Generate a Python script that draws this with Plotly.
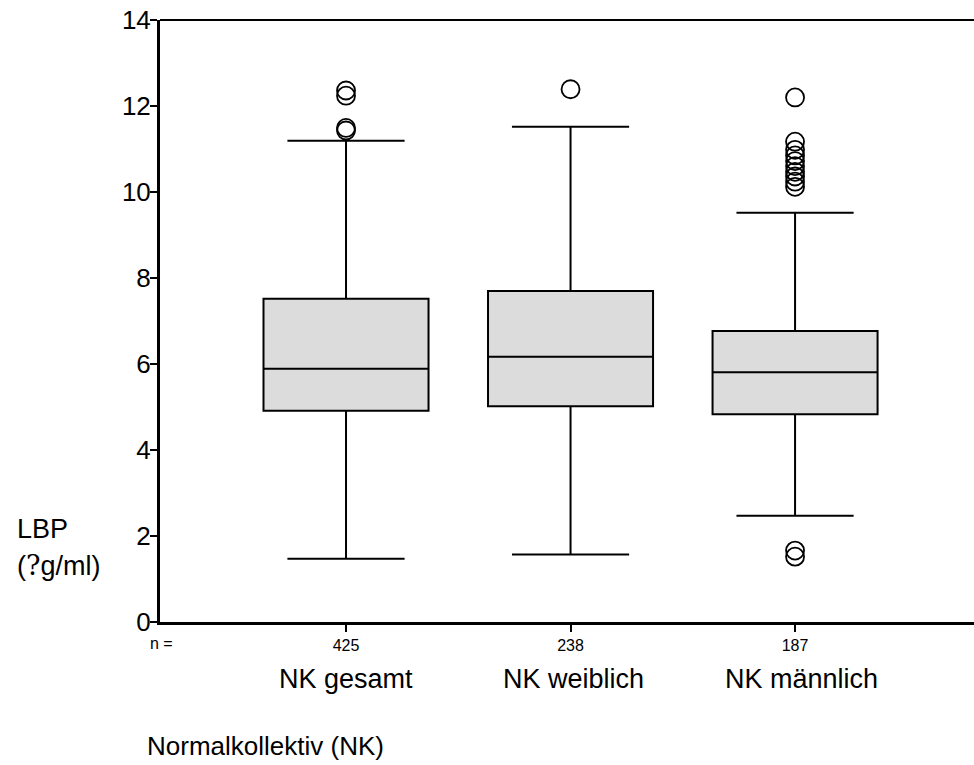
import plotly.graph_objects as go

# ---------------- data ----------------
categories = ["NK gesamt", "NK weiblich", "NK männlich"]
n_values = ["425", "238", "187"]
q1 = [4.91, 5.02, 4.83]
median = [5.89, 6.17, 5.81]
q3 = [7.52, 7.70, 6.77]
lower_whisker = [1.47, 1.57, 2.47]
upper_whisker = [11.19, 11.52, 9.52]
outliers_gesamt = [12.36, 12.24, 11.49, 11.43]
outliers_weiblich = [12.39]
outliers_maennlich = [12.20, 11.17, 10.98, 10.85, 10.72, 10.60, 10.47, 10.36,
                      10.24, 10.12, 1.66, 1.52]
y_ticks = [0, 2, 4, 6, 8, 10, 12, 14]

FONT = "Liberation Sans, Arial, sans-serif"
positions = list(range(len(categories)))
label_shift = [0, 3, 6]

fig = go.Figure()

fig.add_trace(go.Box(
    x=positions,
    q1=q1, median=median, q3=q3,
    lowerfence=lower_whisker, upperfence=upper_whisker,
    width=0.735, whiskerwidth=0.71,
    fillcolor="#dcdcdc",
    line=dict(color="black", width=2),
    boxpoints=False,
    showlegend=False,
))

out_x, out_y = [], []
for i, vals in enumerate([outliers_gesamt, outliers_weiblich, outliers_maennlich]):
    out_x += [positions[i]] * len(vals)
    out_y += vals

fig.add_trace(go.Scatter(
    x=out_x, y=out_y, mode="markers",
    marker=dict(symbol="circle-open", size=18, color="black",
                line=dict(color="black", width=1.8)),
    showlegend=False,
))

annotations = []
for i, c in enumerate(categories):
    annotations.append(dict(x=positions[i], y=-0.0947, xref="x", yref="paper",
                            text=c, showarrow=False, xanchor="center",
                            yanchor="middle", xshift=label_shift[i],
                            font=dict(family=FONT, size=27, color="black")))
annotations += [
    dict(x=-0.0147, y=-0.036, xref="paper", yref="paper", text="n =",
         showarrow=False, xanchor="left", yanchor="middle",
         font=dict(family=FONT, size=16, color="black")),
    dict(x=-0.0184, y=-0.206, xref="paper", yref="paper",
         text="Normalkollektiv (NK)", showarrow=False, xanchor="left",
         yanchor="middle", font=dict(family=FONT, size=26, color="black")),
    dict(x=-0.178, y=0.1537, xref="paper", yref="paper", text="LBP",
         showarrow=False, xanchor="left", yanchor="middle",
         font=dict(family=FONT, size=27, color="black")),
    dict(x=-0.178, y=0.094, xref="paper", yref="paper",
         text="(<span style='font-family:DejaVu Serif'>?</span>g/ml)",
         showarrow=False, xanchor="left", yanchor="middle",
         font=dict(family=FONT, size=27, color="black")),
]

fig.update_layout(
    width=974, height=765,
    margin=dict(l=160, r=0, t=20, b=143, pad=0),
    plot_bgcolor="white", paper_bgcolor="white",
    font=dict(family=FONT, color="black"),
    annotations=annotations,
    shapes=[dict(type="line", xref="paper", yref="paper", x0=0, x1=1,
                 y0=1, y1=1, line=dict(color="black", width=2))],
)

fig.update_xaxes(
    range=[-0.8285, 2.797], tickvals=positions, ticktext=n_values,
    tickfont=dict(family=FONT, size=16, color="black"),
    ticks="outside", ticklen=7, tickwidth=1.5, tickcolor="black",
    showline=True, linewidth=3, linecolor="black",
    showgrid=False, zeroline=False,
)
fig.update_yaxes(
    range=[0, 14], tickvals=y_ticks,
    tickfont=dict(family=FONT, size=26, color="black"),
    ticks="outside", ticklen=7, tickwidth=1.5, tickcolor="black",
    ticklabelstandoff=-6,
    showline=True, linewidth=3, linecolor="black",
    showgrid=False, zeroline=False,
)

fig.write_html("out.html")
